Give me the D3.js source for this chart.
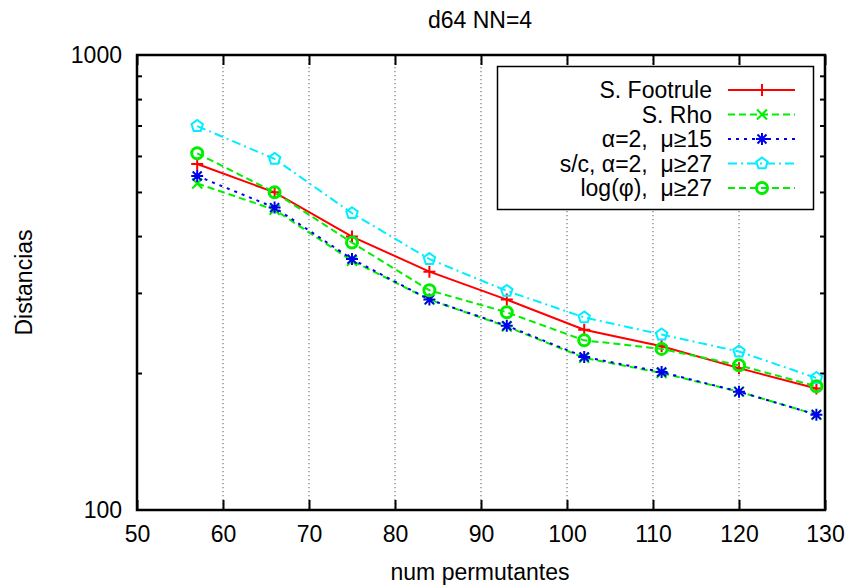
<!DOCTYPE html>
<html>
<head>
<meta charset="utf-8">
<script src="https://cdn.jsdelivr.net/npm/d3@7"></script>
<style>
  body { margin: 0; background: #fff; }
  text { font-family: "Liberation Sans", Arial, sans-serif; fill: #000; white-space: pre; }
</style>
</head>
<body>
<script>
// data
const permutantes = [57, 66, 75, 84, 93, 102, 111, 120, 129]
const footrule = [576, 499, 399, 334, 290, 249, 229, 205, 185]
const rho = [522, 457, 353, 290, 253, 216, 200, 182, 162]
const alpha15 = [542, 462, 356, 290, 254, 217, 201, 182, 162]
const sc27 = [698, 591, 449, 356, 303, 265, 243, 223, 195]
const logphi27 = [608, 499, 387, 304, 272, 236, 226, 208, 187]
const seriesNames = ["S. Footrule", "S. Rho", "\u03b1=2,  \u03bc\u226515", "s/c, \u03b1=2,  \u03bc\u226527", "log(\u03c6),  \u03bc\u226527"]
const xTicks = [50, 60, 70, 80, 90, 100, 110, 120, 130]
const yTicks = [100, 1000]
const yMinor = [200, 300, 400, 500, 600, 700, 800, 900]

const width = 852
const height = 588
const margin = ({ top: 55, right: 27, bottom: 78, left: 137 })
const fontSize = 23

const svg = d3.select('body')
    .append('svg')
    .attr('width', width)
    .attr('height', height)

const x = d3.scaleLinear()
    .domain([50, 130])
    .range([margin.left, width - margin.right])
const y = d3.scaleLog()
    .domain([100, 1000])
    .range([height - margin.bottom, margin.top])

// dotted vertical grid
svg.append('g')
    .selectAll('line')
    .data(xTicks.slice(1, -1))
    .join('line')
    .attr('x1', d => x(d)).attr('x2', d => x(d))
    .attr('y1', y(1000)).attr('y2', y(100))
    .attr('stroke', '#777')
    .attr('stroke-width', 1.2)
    .attr('stroke-dasharray', '1.2,2.8')

// axes: ticks pointing inward, like gnuplot
const fmt = d3.format('d')
svg.append('g')
    .attr('transform', `translate(0,${y(100)})`)
    .call(d3.axisBottom(x).tickValues(xTicks).tickFormat(fmt).tickSizeInner(-10).tickSizeOuter(0).tickPadding(16))
svg.append('g')
    .attr('transform', `translate(0,${y(1000)})`)
    .call(d3.axisTop(x).tickValues(xTicks).tickFormat('').tickSizeInner(-10).tickSizeOuter(0))
svg.append('g')
    .attr('transform', `translate(${x(50)},0)`)
    .call(d3.axisLeft(y).tickValues(yMinor).tickFormat('').tickSizeInner(-5).tickSizeOuter(0))
svg.append('g')
    .attr('transform', `translate(${x(130)},0)`)
    .call(d3.axisRight(y).tickValues(yMinor).tickFormat('').tickSizeInner(-5).tickSizeOuter(0))
svg.append('g')
    .attr('transform', `translate(${x(50)},0)`)
    .call(d3.axisLeft(y).tickValues(yTicks).tickFormat(fmt).tickSize(0).tickPadding(15))

svg.selectAll('.domain').remove()
svg.selectAll('.tick line').attr('stroke', '#000').attr('stroke-width', 2)
svg.selectAll('.tick text')
    .attr('font-size', fontSize)
    .attr('font-family', '"Liberation Sans", Arial, sans-serif')
    .attr('fill', '#000')

svg.append('rect')
    .attr('x', x(50)).attr('y', y(1000))
    .attr('width', x(130) - x(50)).attr('height', y(100) - y(1000))
    .attr('fill', 'none')
    .attr('stroke', '#000')
    .attr('stroke-width', 2.5)

// title and axis labels
svg.append('text')
    .attr('x', 480).attr('y', 28)
    .attr('text-anchor', 'middle')
    .attr('font-size', fontSize)
    .text('d64 NN=4')
svg.append('text')
    .attr('x', 480).attr('y', 580)
    .attr('text-anchor', 'middle')
    .attr('font-size', fontSize)
    .text('num permutantes')
svg.append('text')
    .attr('transform', `translate(32,${(y(100) + y(1000)) / 2}) rotate(-90)`)
    .attr('text-anchor', 'middle')
    .attr('font-size', fontSize)
    .text('Distancias')

// markers
const pentagon = r => d3.line()(d3.range(6).map(i => {
    const a = -Math.PI / 2 + i * 2 * Math.PI / 5
    return [r * Math.cos(a), r * Math.sin(a)]
})) + 'Z'
const markers = {
    plus: 'M-6,0H6M0,-6V6',
    cross: 'M-5,-5L5,5M-5,5L5,-5',
    star: 'M-6,0H6M0,-6V6M-4.5,-4.5L4.5,4.5M-4.5,4.5L4.5,-4.5',
    pent: pentagon(6)
}

const series = [
    { name: seriesNames[0], values: footrule, color: '#ff0000', dash: null, mark: 'plus' },
    { name: seriesNames[1], values: rho, color: '#00ee00', dash: '7,4', mark: 'cross' },
    { name: seriesNames[2], values: alpha15, color: '#0000ee', dash: '3,5', mark: 'star' },
    { name: seriesNames[3], values: sc27, color: '#00eeff', dash: '9,4,2,4', mark: 'pent' },
    { name: seriesNames[4], values: logphi27, color: '#00ee00', dash: '7,4', mark: 'circle' }
]

const drawMark = (g, s, cx, cy) => {
    if (s.mark === 'circle') {
        g.append('circle')
            .attr('cx', cx).attr('cy', cy).attr('r', 5.5)
            .attr('fill', 'none')
            .attr('stroke', s.color)
            .attr('stroke-width', 3)
    } else {
        g.append('path')
            .attr('d', markers[s.mark])
            .attr('transform', `translate(${cx},${cy})`)
            .attr('fill', 'none')
            .attr('stroke', s.color)
            .attr('stroke-width', 2)
    }
}

const line = d3.line()
    .x(d => x(d[0]))
    .y(d => y(d[1]))

series.forEach(s => {
    const pts = permutantes.map((p, i) => [p, s.values[i]])
    const g = svg.append('g')
    g.append('path')
        .attr('d', line(pts))
        .attr('fill', 'none')
        .attr('stroke', s.color)
        .attr('stroke-width', 2)
        .attr('stroke-dasharray', s.dash)
    pts.forEach(d => drawMark(g, s, x(d[0]), y(d[1])))
})

// legend
const legend = svg.append('g')
legend.append('rect')
    .attr('x', 497.5).attr('y', 66.5)
    .attr('width', 316).attr('height', 143)
    .attr('fill', '#fff')
    .attr('stroke', '#000')
    .attr('stroke-width', 1.5)
series.forEach((s, i) => {
    const cy = 90 + i * 24.5
    legend.append('text')
        .attr('x', 712).attr('y', cy)
        .attr('dy', '0.36em')
        .attr('text-anchor', 'end')
        .attr('font-size', fontSize)
        .text(s.name)
    legend.append('line')
        .attr('x1', 728).attr('x2', 795)
        .attr('y1', cy).attr('y2', cy)
        .attr('stroke', s.color)
        .attr('stroke-width', 2)
        .attr('stroke-dasharray', s.dash)
    drawMark(legend, s, 762, cy)
})
</script>
</body>
</html>
